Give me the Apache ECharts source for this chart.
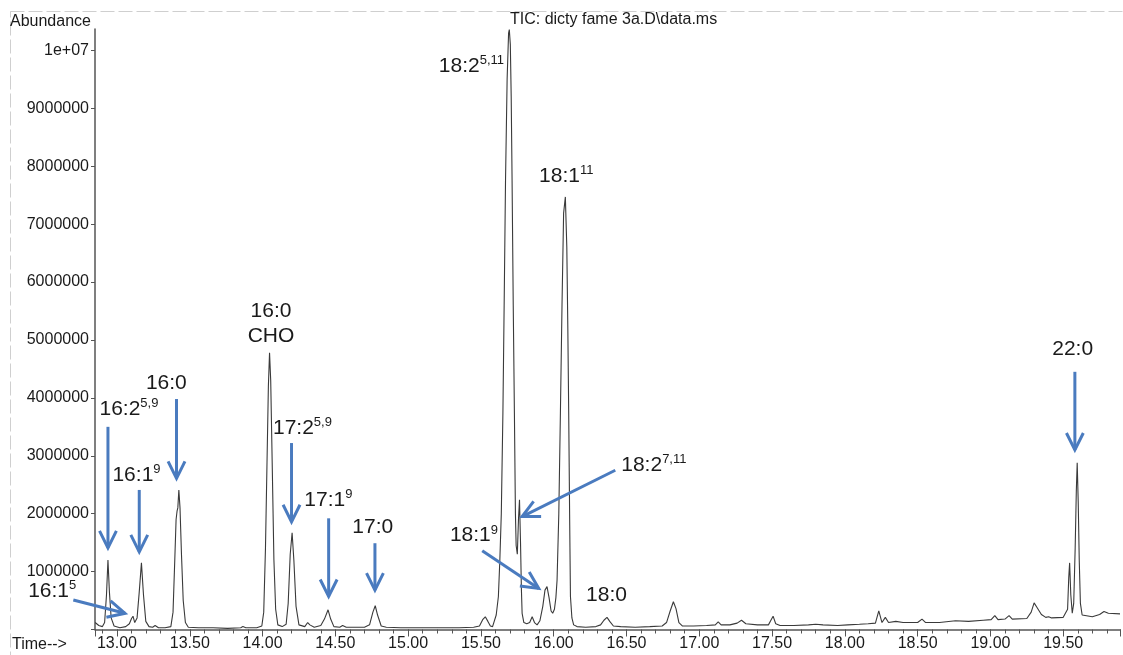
<!DOCTYPE html>
<html>
<head>
<meta charset="utf-8">
<title>TIC: dicty fame 3a.D\data.ms</title>
<script src="https://cdn.jsdelivr.net/npm/echarts@6.0.0/dist/echarts.min.js"></script>
<style>
  html, body { margin: 0; padding: 0; background: #fff; }
  #chart { width: 1123px; height: 655px; }
</style>
</head>
<body>
<div id="chart"></div>
<script>
// Retention time (min) and TIC abundance (millions)
const times = [
  12.850, 12.875, 12.900, 12.915, 12.928, 12.938, 12.948, 12.960, 12.980, 13.020,
  13.060, 13.085, 13.100, 13.110, 13.122, 13.138, 13.152, 13.168, 13.182, 13.198,
  13.220, 13.245, 13.262, 13.285, 13.330, 13.370, 13.385, 13.397, 13.406, 13.413,
  13.418, 13.425, 13.433, 13.443, 13.455, 13.470, 13.490, 13.560, 13.660, 13.760,
  13.850, 13.865, 13.885, 13.960, 13.995, 14.008, 14.020, 14.030, 14.040, 14.048,
  14.056, 14.066, 14.078, 14.090, 14.105, 14.135, 14.162, 14.176, 14.190, 14.203,
  14.215, 14.230, 14.250, 14.290, 14.310, 14.325, 14.355, 14.400, 14.425, 14.450,
  14.468, 14.490, 14.530, 14.550, 14.575, 14.700, 14.735, 14.758, 14.774, 14.790,
  14.815, 14.850, 14.950, 15.050, 15.150, 15.250, 15.350, 15.450, 15.490, 15.512,
  15.530, 15.548, 15.565, 15.580, 15.592, 15.605, 15.620, 15.630, 15.640, 15.651,
  15.660, 15.669, 15.680, 15.690, 15.695, 15.702, 15.708, 15.714, 15.722, 15.730,
  15.737, 15.742, 15.750, 15.758, 15.765, 15.772, 15.778, 15.783, 15.795, 15.815,
  15.835, 15.852, 15.868, 15.886, 15.905, 15.925, 15.940, 15.954, 15.968, 15.982,
  15.993, 16.005, 16.015, 16.023, 16.035, 16.046, 16.057, 16.068, 16.080, 16.090,
  16.097, 16.103, 16.110, 16.115, 16.125, 16.137, 16.160, 16.220, 16.290, 16.322,
  16.345, 16.366, 16.385, 16.410, 16.460, 16.560, 16.660, 16.745, 16.775, 16.800,
  16.822, 16.840, 16.860, 16.885, 16.960, 17.050, 17.110, 17.130, 17.150, 17.210,
  17.260, 17.290, 17.320, 17.400, 17.475, 17.492, 17.507, 17.525, 17.555, 17.650,
  17.750, 17.800, 17.850, 17.950, 18.020, 18.100, 18.160, 18.210, 18.233, 18.255,
  18.278, 18.300, 18.350, 18.400, 18.500, 18.530, 18.555, 18.650, 18.760, 18.850,
  18.950, 19.005, 19.030, 19.052, 19.100, 19.128, 19.150, 19.250, 19.280, 19.300,
  19.320, 19.350, 19.380, 19.400, 19.420, 19.500, 19.530, 19.538, 19.544, 19.552,
  19.562, 19.572, 19.582, 19.590, 19.596, 19.603, 19.610, 19.618, 19.630, 19.700,
  19.750, 19.780, 19.810, 19.890
];
const abundance = [
  0.12, 0.07, 0.05, 0.12, 0.60, 1.20, 0.65, 0.20, 0.06, 0.03,
  0.05, 0.10, 0.19, 0.23, 0.12, 0.20, 0.62, 1.15, 0.60, 0.14,
  0.05, 0.04, 0.07, 0.03, 0.03, 0.05, 0.30, 1.20, 1.90, 2.05,
  2.10, 2.41, 2.10, 1.30, 0.50, 0.12, 0.04, 0.03, 0.03, 0.02,
  0.03, 0.05, 0.03, 0.03, 0.06, 0.30, 1.40, 2.80, 4.20, 4.78,
  4.30, 2.90, 1.20, 0.35, 0.08, 0.05, 0.09, 0.45, 1.30, 1.67,
  1.20, 0.40, 0.08, 0.05, 0.12, 0.08, 0.04, 0.07, 0.18, 0.34,
  0.18, 0.05, 0.04, 0.07, 0.04, 0.04, 0.08, 0.30, 0.41, 0.25,
  0.06, 0.04, 0.03, 0.03, 0.03, 0.03, 0.03, 0.04, 0.06, 0.17,
  0.22, 0.14, 0.06, 0.05, 0.08, 0.25, 0.57, 1.20, 2.00, 3.74,
  5.70, 7.76, 9.50, 10.30, 10.36, 10.10, 9.20, 7.76, 5.60, 3.74,
  2.00, 1.45, 1.30, 1.90, 2.24, 1.50, 0.70, 0.28, 0.12, 0.10,
  0.12, 0.22, 0.12, 0.08, 0.15, 0.40, 0.68, 0.74, 0.55, 0.32,
  0.28, 0.35, 0.55, 0.85, 2.00, 3.74, 5.60, 7.19, 7.47, 6.60,
  5.20, 3.74, 1.80, 0.57, 0.20, 0.08, 0.05, 0.04, 0.05, 0.08,
  0.16, 0.21, 0.14, 0.06, 0.05, 0.04, 0.05, 0.06, 0.12, 0.32,
  0.48, 0.36, 0.12, 0.06, 0.06, 0.07, 0.08, 0.13, 0.08, 0.08,
  0.11, 0.16, 0.10, 0.08, 0.08, 0.16, 0.23, 0.10, 0.07, 0.07,
  0.08, 0.09, 0.08, 0.07, 0.08, 0.09, 0.10, 0.11, 0.32, 0.12,
  0.21, 0.12, 0.14, 0.12, 0.12, 0.18, 0.12, 0.12, 0.15, 0.14,
  0.16, 0.17, 0.24, 0.17, 0.18, 0.24, 0.18, 0.19, 0.30, 0.46,
  0.38, 0.26, 0.21, 0.22, 0.20, 0.21, 0.35, 0.90, 1.15, 0.60,
  0.28, 0.45, 1.40, 2.40, 2.88, 2.20, 1.20, 0.45, 0.25, 0.22,
  0.26, 0.31, 0.28, 0.27
];

// Y tick labels, one per million
const yTickLabels = ['', '1000000', '2000000', '3000000', '4000000', '5000000',
  '6000000', '7000000', '8000000', '9000000', '1e+07'];

// Peak names ({s|..} = superscript) and where they sit (time, abundance)
const peakLabels = [
  '16:2{s|5,9}', '16:1{s|9}', '16:0', '16:0\nCHO', '17:2{s|5,9}', '17:1{s|9}', '17:0',
  '16:1{s|5}', '18:1{s|9}', '18:2{s|7,11}', '18:0', '18:2{s|5,11}', '18:1{s|11}', '22:0'
];
const peakLabelAt = [
  [13.082, 3.81], [13.134, 2.67], [13.339, 4.26], [14.058, 5.28], [14.274, 3.48],
  [14.452, 2.24], [14.757, 1.76], [12.555, 0.66], [15.452, 1.62], [16.688, 2.84],
  [16.363, 0.60], [15.435, 9.72], [16.086, 7.82], [19.565, 4.84]
];

// Arrows: tail -> head (time, abundance)
const arrowFrom = [
  [12.938, 3.50], [13.153, 2.41], [13.409, 3.98], [14.199, 3.22], [14.454, 1.92],
  [14.772, 1.49], [19.580, 4.45], [12.700, 0.51], [15.509, 1.36], [16.423, 2.75]
];
const arrowTo = [
  [12.938, 1.41], [13.153, 1.34], [13.409, 2.61], [14.199, 1.86], [14.454, 0.57],
  [14.772, 0.68], [19.580, 3.10], [13.055, 0.28], [15.897, 0.71], [15.783, 1.95]
];

const FONT = '"Liberation Sans", Arial, sans-serif';
const BLUE = '#4a7bbf';
const AXIS = '#555';

const chart = echarts.init(document.getElementById('chart'));

const option = {
  animation: false,
  backgroundColor: '#fff',
  grid: { left: 95, right: 0, top: 29, bottom: 25.5 },
  xAxis: [
    {
      type: 'value',
      min: 12.849,
      max: 19.89,
      splitNumber: 14,
      axisLine: { lineStyle: { color: AXIS, width: 1.5 } },
      axisTick: { length: 7, lineStyle: { color: AXIS } },
      axisLabel: {
        margin: 6,
        fontSize: 16,
        fontFamily: FONT,
        color: '#1a1a1a',
        formatter: (v) => (Math.abs(v * 2 - Math.round(v * 2)) < 1e-6 ? v.toFixed(2) : '')
      },
      splitLine: { show: false }
    },
    {
      // only the small 0.1 min ticks
      type: 'value',
      position: 'bottom',
      min: 12.849,
      max: 19.89,
      splitNumber: 70,
      axisLine: { show: false },
      axisTick: { length: 4, lineStyle: { color: AXIS } },
      axisLabel: { show: false },
      splitLine: { show: false }
    }
  ],
  yAxis: {
    type: 'value',
    min: 0,
    max: 10.37,
    interval: 1,
    axisLine: { show: true, lineStyle: { color: AXIS, width: 1.5 } },
    axisTick: { show: true, length: 4, lineStyle: { color: AXIS } },
    axisLabel: {
      margin: 6,
      fontSize: 16,
      fontFamily: FONT,
      color: '#1a1a1a',
      showMaxLabel: false,
      formatter: (v) => (Math.abs(v - Math.round(v)) < 1e-6 ? yTickLabels[Math.round(v)] : '')
    },
    splitLine: { show: false }
  },
  graphic: [
    {
      type: 'rect',
      silent: true,
      shape: { x: 10.5, y: 11.5, width: 1300, height: 800 },
      style: { fill: 'none', stroke: '#cfcfcf', lineWidth: 1, lineDash: [14, 4] }
    },
    {
      type: 'text', left: 10, top: 14,
      style: { text: 'Abundance', fontSize: 16, fontFamily: FONT, fill: '#1a1a1a' }
    },
    {
      type: 'text', left: 510, top: 12,
      style: { text: 'TIC: dicty fame 3a.D\\data.ms', fontSize: 16, fontFamily: FONT, fill: '#1a1a1a' }
    },
    {
      type: 'text', left: 12, top: 637,
      style: { text: 'Time-->', fontSize: 16, fontFamily: FONT, fill: '#1a1a1a' }
    }
  ],
  series: [
    {
      name: 'TIC',
      type: 'line',
      data: times.map((t, i) => [t, abundance[i]]),
      showSymbol: false,
      smooth: false,
      clip: false,
      lineStyle: { color: '#3a3a3a', width: 1.1 },
      z: 2
    },
    {
      name: 'arrows',
      type: 'custom',
      data: arrowFrom.map((f, i) => [f[0], f[1], arrowTo[i][0], arrowTo[i][1]]),
      encode: { x: [0, 2], y: [1, 3] },
      silent: true,
      z: 3,
      renderItem: (params, api) => {
        const p0 = api.coord([api.value(0), api.value(1)]);
        const p1 = api.coord([api.value(2), api.value(3)]);
        const ang = Math.atan2(p1[1] - p0[1], p1[0] - p0[0]);
        const len = 19;
        const spread = 0.46;
        const a = [p1[0] - len * Math.cos(ang - spread), p1[1] - len * Math.sin(ang - spread)];
        const b = [p1[0] - len * Math.cos(ang + spread), p1[1] - len * Math.sin(ang + spread)];
        return {
          type: 'group',
          children: [
            {
              type: 'line',
              shape: { x1: p0[0], y1: p0[1], x2: p1[0], y2: p1[1] },
              style: { stroke: BLUE, lineWidth: 3 }
            },
            {
              type: 'polyline',
              shape: { points: [a, p1, b] },
              style: { stroke: BLUE, lineWidth: 3, fill: null }
            }
          ]
        };
      }
    },
    {
      name: 'labels',
      type: 'custom',
      data: peakLabelAt,
      encode: { x: 0, y: 1 },
      silent: true,
      z: 4,
      renderItem: (params, api) => {
        const p = api.coord([api.value(0), api.value(1)]);
        return {
          type: 'text',
          x: p[0],
          y: p[1],
          style: {
            text: peakLabels[params.dataIndex],
            align: 'center',
            verticalAlign: 'middle',
            fontSize: 21,
            lineHeight: 24.5,
            fontFamily: FONT,
            fill: '#1a1a1a',
            rich: {
              s: { fontSize: 13, lineHeight: 13, verticalAlign: 'top', fontFamily: FONT, fill: '#1a1a1a' }
            }
          }
        };
      }
    }
  ]
};

chart.setOption(option);
</script>
</body>
</html>
